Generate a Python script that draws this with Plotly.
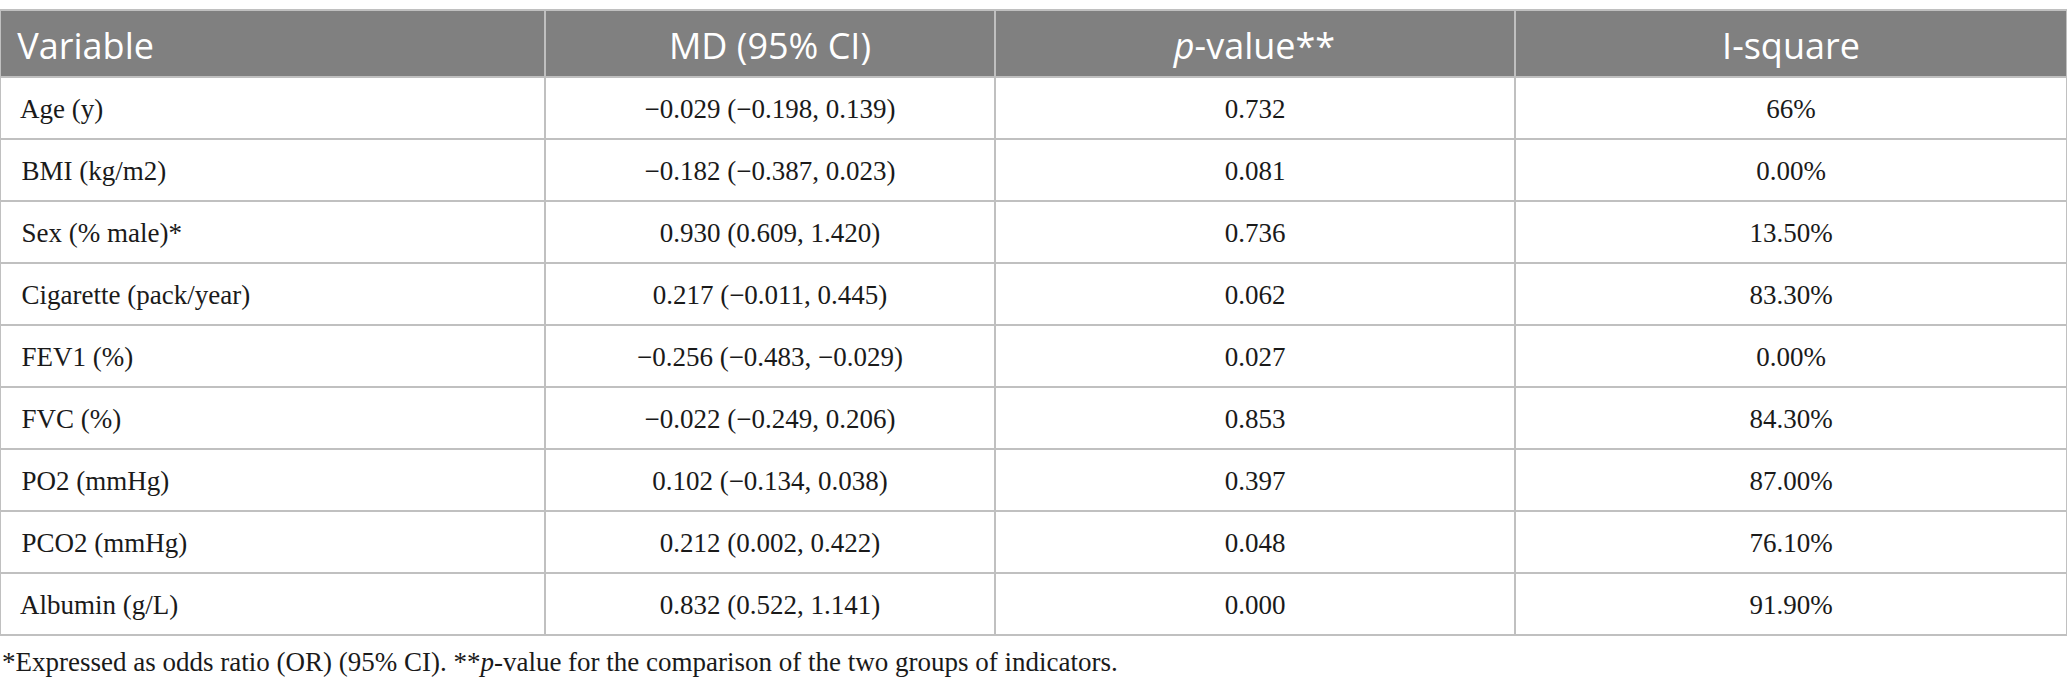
import plotly.graph_objects as go

# Data
headers = ["Variable", "MD (95% CI)", "<i>p</i>-value**", "I-square"]

variables = [
    "Age (y)", "BMI (kg/m2)", "Sex (% male)*", "Cigarette (pack/year)", "FEV1 (%)",
    "FVC (%)", "PO2 (mmHg)", "PCO2 (mmHg)", "Albumin (g/L)"
]

md_ci = [
    "\u22120.029 (\u22120.198, 0.139)", "\u22120.182 (\u22120.387, 0.023)",
    "0.930 (0.609, 1.420)", "0.217 (\u22120.011, 0.445)",
    "\u22120.256 (\u22120.483, \u22120.029)", "\u22120.022 (\u22120.249, 0.206)",
    "0.102 (\u22120.134, 0.038)", "0.212 (0.002, 0.422)", "0.832 (0.522, 1.141)"
]

p_values = ["0.732", "0.081", "0.736", "0.062", "0.027", "0.853", "0.397", "0.048", "0.000"]

i_square = ["66%", "0.00%", "13.50%", "83.30%", "0.00%", "84.30%", "87.00%", "76.10%", "91.90%"]

footnote = ("*Expressed as odds ratio (OR) (95% CI). **<i>p</i>-value for the comparison "
            "of the two groups of indicators.")

W, H = 2067, 693
line_col = "#c0c0c0"
col_w = [545, 450, 520, 552]
aligns = ["left", "center", "center", "center"]
top = 10
head_h, row_h = 67, 62

fig = go.Figure()

# grid: fills and lines
fig.add_trace(go.Table(
    columnwidth=col_w,
    domain=dict(x=[0, 1], y=[0, 1 - top / H]),
    header=dict(
        values=[""] * len(headers),
        fill_color="#808080",
        line=dict(color=line_col, width=2),
        height=head_h,
    ),
    cells=dict(
        values=[[""] * len(variables)] * len(headers),
        fill_color="white",
        line=dict(color=line_col, width=2),
        height=row_h,
    ),
))

# text layer, nudged down so the labels sit mid-cell
head_txt = ["<span>" + h + "</span>" for h in headers]
head_txt[0] = "<span> " + headers[0] + "</span>"

fig.add_trace(go.Table(
    columnwidth=col_w,
    domain=dict(x=[0, 1], y=[0, 1 - (top + 3) / H]),
    header=dict(
        values=head_txt,
        fill_color="rgba(0,0,0,0)",
        line=dict(color="rgba(0,0,0,0)", width=0),
        align=aligns,
        font=dict(family="Open Sans", size=36, color="white"),
        height=head_h + 10,
    ),
    cells=dict(
        values=[["  " + v for v in variables], md_ci, p_values, i_square],
        fill_color="rgba(0,0,0,0)",
        line=dict(color="rgba(0,0,0,0)", width=0),
        align=aligns,
        font=dict(family="Liberation Serif", size=27, color="#1a1a1a"),
        height=row_h,
    ),
))

fig.add_annotation(
    x=0, y=1 - 662 / H, xref="paper", yref="paper", text=footnote,
    showarrow=False, xanchor="left", yanchor="middle",
    font=dict(family="Liberation Serif", size=27, color="#1a1a1a"),
)

fig.update_layout(
    width=W,
    height=H,
    margin=dict(l=0, r=0, t=0, b=0),
    paper_bgcolor="white",
)

fig.write_html("out.html", config={"displayModeBar": False},
               post_script="document.body.style.margin='0';")
